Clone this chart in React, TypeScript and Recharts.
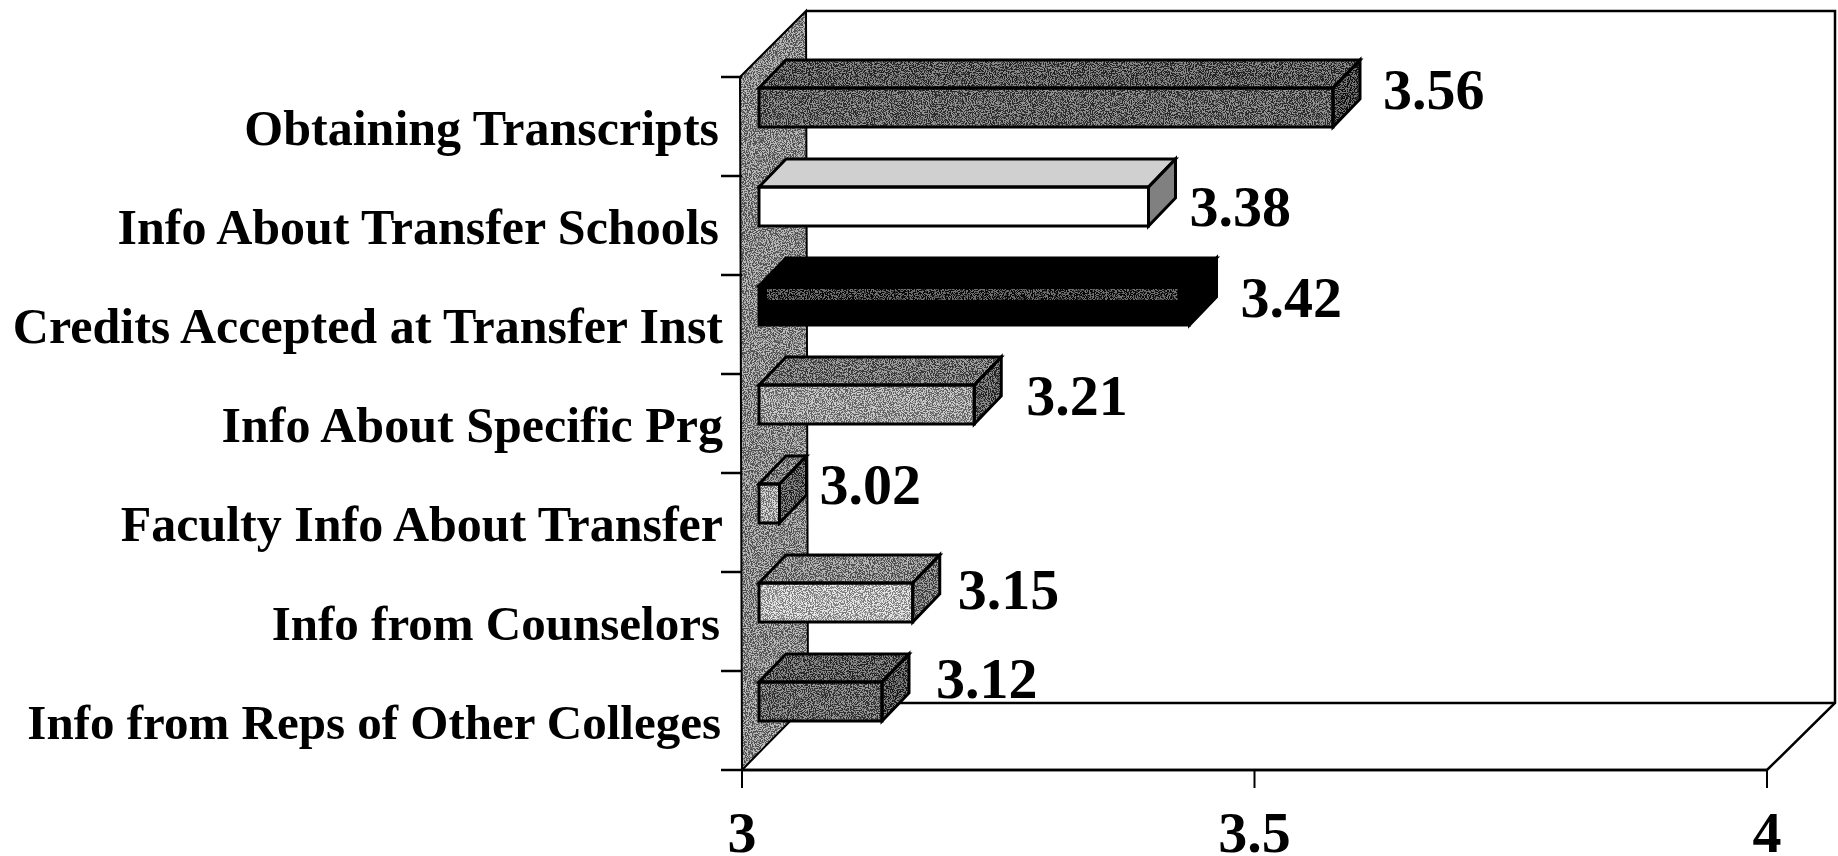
import React from "react";
import { BarChart, Bar, XAxis, YAxis, LabelList } from "recharts";

const categories = [
  "Obtaining Transcripts",
  "Info About Transfer Schools",
  "Credits Accepted at Transfer Inst",
  "Info About Specific Prg",
  "Faculty Info About Transfer",
  "Info from Counselors",
  "Info from Reps of Other Colleges",
];
const scores = [3.56, 3.38, 3.42, 3.21, 3.02, 3.15, 3.12];
const valueTicks = [3, 3.5, 4];

const data = categories.map((name, i) => ({ name, score: scores[i] }));

// front / top / side shades of each box
const faces = [
  { front: "#484848", top: "#383838", side: "#161616", grain: true },
  { front: "#ffffff", top: "#d0d0d0", side: "#808080", grain: false },
  { front: "#000000", top: "#000000", side: "#000000", grain: false },
  { front: "#a8a8a8", top: "#606060", side: "#3a3a3a", grain: true },
  { front: "#bcbcbc", top: "#787878", side: "#383838", grain: true },
  { front: "#d8d8d8", top: "#848484", side: "#606060", grain: true },
  { front: "#505050", top: "#3c3c3c", side: "#282828", grain: true },
];

// the labels were placed by hand in the original, so each has its own nudge
const labelGap = [23, 14, 24, 25, 13, 18, 27];
const labelRise = [38, 20, 28, 29, 39, 33, 43];
const catLabelRight = [719, 719, 723, 723, 723, 720, 721];
const catLabelSize = [50, 50, 50, 50, 50, 49, 49];

const WIDTH = 1838;
const HEIGHT = 856;
const LEFT = 742;
const TOP = 77;
const RIGHT = 1767;
const BOTTOM = 770;
const DEPTH_X = 66;
const DEPTH_Y = 67;
const BAND = (BOTTOM - TOP) / categories.length;
const BOX_SHIFT = 17; // gap between front plane and box
const BOX_LIFT = 19;
const BOX_DX = 27;
const BOX_DY = 28;
const SERIF = "'Liberation Serif', 'Times New Roman', serif";

function Box(props: any) {
  const { x, y, width, height, index } = props;
  const f = faces[index];
  const fx = x + BOX_SHIFT;
  const fy = y - BOX_LIFT;
  const filter = f.grain ? "url(#grain)" : undefined;
  const top = `${fx},${fy} ${fx + BOX_DX},${fy - BOX_DY} ${fx + width + BOX_DX},${fy - BOX_DY} ${fx + width},${fy}`;
  const side = `${fx + width},${fy} ${fx + width + BOX_DX},${fy - BOX_DY} ${fx + width + BOX_DX},${fy - BOX_DY + height} ${fx + width},${fy + height}`;
  return (
    <g>
      {/* fills carry the grain, outlines go on after so they stay solid black */}
      <polygon points={top} fill={f.top} filter={filter} />
      <polygon points={side} fill={f.side} filter={filter} />
      <rect x={fx} y={fy} width={width} height={height} fill={f.front} filter={filter} />
      {index === 2 && (
        <rect x={fx + 8} y={fy + 3} width={width - 20} height={11} fill="#0c0c0c" filter="url(#grain)" />
      )}
      <g fill="none" stroke="#000" strokeWidth={3}>
        <polygon points={top} />
        <polygon points={side} />
        <rect x={fx} y={fy} width={width} height={height} />
      </g>
    </g>
  );
}

function ValueLabel(props: any) {
  const { x, y, width, index, value } = props;
  return (
    <text
      x={x + width + BOX_SHIFT + BOX_DX + labelGap[index]}
      y={y + 19.5 - labelRise[index]}
      dy="0.35em"
      fontFamily={SERIF}
      fontWeight={700}
      fontSize={58}
      fill="#000"
    >
      {Number(value).toFixed(2)}
    </text>
  );
}

function CategoryTick(props: any) {
  const { y, index, payload } = props;
  return (
    <g>
      <line x1={721} x2={LEFT} y1={y - BAND / 2} y2={y - BAND / 2} stroke="#000" strokeWidth={2.5} />
      {index === categories.length - 1 && (
        <line x1={721} x2={LEFT} y1={y + BAND / 2} y2={y + BAND / 2} stroke="#000" strokeWidth={2.5} />
      )}
      <text
        x={catLabelRight[index]}
        y={y + 1}
        dy="0.35em"
        textAnchor="end"
        fontFamily={SERIF}
        fontWeight={700}
        fontSize={catLabelSize[index]}
        fill="#000"
      >
        {payload.value}
      </text>
    </g>
  );
}

export default function App() {
  const backL = LEFT + DEPTH_X - 2;
  const backR = RIGHT + DEPTH_X + 2;
  const backB = BOTTOM - DEPTH_Y;
  const backT = 11;
  return (
    <div style={{ position: "absolute", left: 0, top: 0, width: WIDTH, height: HEIGHT, background: "#fff", overflow: "hidden" }}>
      <BarChart
        width={WIDTH}
        height={HEIGHT}
        data={data}
        layout="vertical"
        margin={{ top: TOP, right: WIDTH - RIGHT, bottom: 0, left: 0 }}
        barSize={39}
      >
        <defs>
          <filter id="grain" x="0" y="0" width="1" height="1" colorInterpolationFilters="sRGB">
            <feTurbulence type="fractalNoise" baseFrequency="0.95" numOctaves={2} seed={4} result="noise" />
            <feColorMatrix
              in="noise"
              type="matrix"
              values="9 0 0 0 -4  9 0 0 0 -4  9 0 0 0 -4  0 0 0 0 0.42"
              result="specks"
            />
            <feComposite in="specks" in2="SourceAlpha" operator="in" result="clipped" />
            <feMerge>
              <feMergeNode in="SourceGraphic" />
              <feMergeNode in="clipped" />
            </feMerge>
          </filter>
        </defs>
        {/* 3D room: back wall, floor and the grey side wall */}
        <g>
          <polyline
            points={`${backL},${backT} ${backR},${backT} ${backR},${backB} ${RIGHT},${BOTTOM} ${LEFT},${BOTTOM}`}
            fill="#fff"
            stroke="#000"
            strokeWidth={2.5}
          />
          <line x1={backL} x2={backR} y1={backB} y2={backB} stroke="#000" strokeWidth={2.5} />
          <polygon
            points={`${LEFT - 2},${TOP} ${backL},${backT} ${backL + 2},${backB} ${LEFT},${BOTTOM}`}
            fill="#8a8a8a"
            filter="url(#grain)"
          />
          <polygon
            points={`${LEFT - 2},${TOP} ${backL},${backT} ${backL + 2},${backB} ${LEFT},${BOTTOM}`}
            fill="none"
            stroke="#000"
            strokeWidth={2}
          />
        </g>
        <XAxis
          type="number"
          domain={[3, 4]}
          ticks={valueTicks}
          height={HEIGHT - BOTTOM}
          axisLine={{ stroke: "#000", strokeWidth: 2.5 }}
          tickLine={{ stroke: "#000", strokeWidth: 2 }}
          tickSize={18}
          tickMargin={23}
          tick={{ fontFamily: SERIF, fontWeight: 700, fontSize: 58, fill: "#000" }}
        />
        <YAxis
          type="category"
          dataKey="name"
          width={LEFT}
          interval={0}
          axisLine={false}
          tickLine={false}
          tick={<CategoryTick />}
        />
        <Bar dataKey="score" isAnimationActive={false} shape={<Box />}>
          <LabelList dataKey="score" content={<ValueLabel />} />
        </Bar>
      </BarChart>
    </div>
  );
}
